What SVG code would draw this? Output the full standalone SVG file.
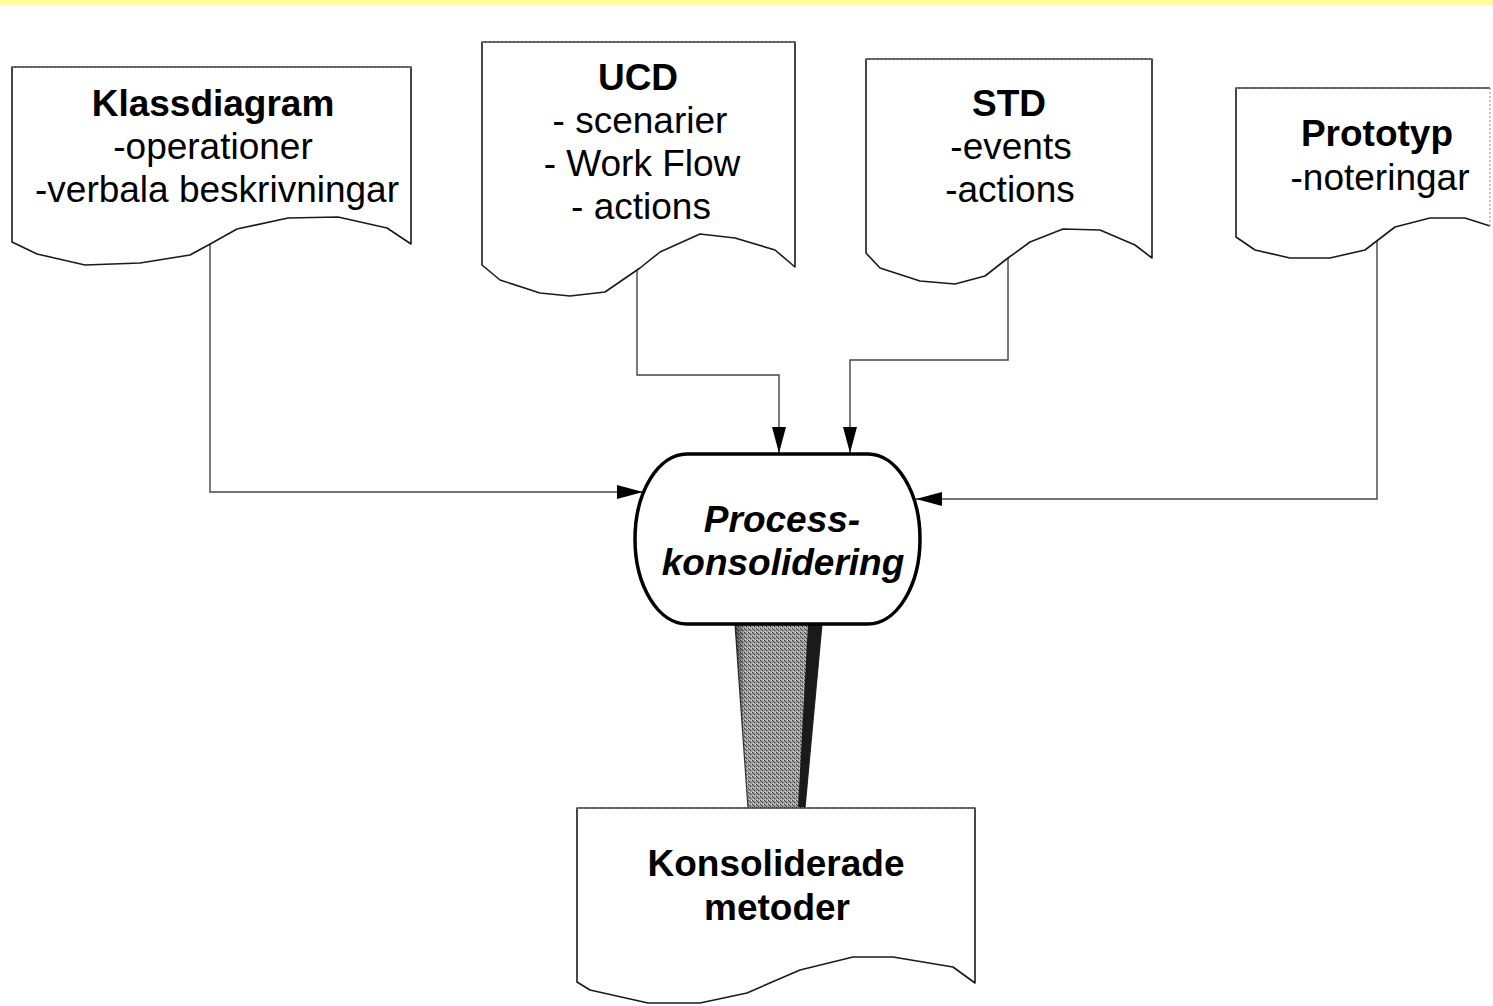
<svg xmlns="http://www.w3.org/2000/svg" width="1493" height="1006" viewBox="0 0 1493 1006">
  <style>
    .doc { fill: #ffffff; stroke: #1a1a1a; stroke-width: 1.6; stroke-linejoin: round; }
    .docTop { fill: none; stroke: #777; stroke-width: 1.4; stroke-dasharray: 3 1; }
    .t { font-family: "Liberation Sans", Arial, sans-serif; font-size: 37px; fill: #000; text-anchor: middle; }
    .b { font-weight: bold; }
    .proc { fill: #ffffff; stroke: #000; stroke-width: 3.5; }
    .conn { fill: none; stroke: #444; stroke-width: 1.4; }
  </style>
  <defs>
    <marker id="arrow" viewBox="0 0 26 14" refX="26" refY="7" markerWidth="26" markerHeight="14" markerUnits="userSpaceOnUse" orient="auto">
      <path d="M0,0 L26,7 L0,14 Z" fill="#000"/>
    </marker>
    <pattern id="dither" width="4" height="4" patternUnits="userSpaceOnUse">
      <rect width="4" height="4" fill="#9a9a9a"/>
      <rect x="0" y="0" width="1" height="1" fill="#444"/>
      <rect x="2" y="2" width="1" height="1" fill="#444"/>
      <rect x="1" y="1" width="1" height="1" fill="#555"/>
      <rect x="3" y="0" width="1" height="1" fill="#ddd"/>
      <rect x="1" y="3" width="1" height="1" fill="#ddd"/>
    </pattern>
    <linearGradient id="funnelEdge" x1="0" y1="0" x2="1" y2="0">
      <stop offset="0" stop-color="#000" stop-opacity="0.55"/>
      <stop offset="0.12" stop-color="#000" stop-opacity="0"/>
      <stop offset="1" stop-color="#000" stop-opacity="0"/>
    </linearGradient>
  </defs>

  <rect width="1493" height="1006" fill="#ffffff"/>
  <!-- pale yellow band along the top edge -->
  <rect x="0" y="0" width="1493" height="5" fill="#fff9a0"/>

  <!-- connectors -->
  <g id="connectors">
    <polyline class="conn" points="210,244 210,492 643,492" marker-end="url(#arrow)"/>
    <polyline class="conn" points="637,268 637,375 779,375 779,453" marker-end="url(#arrow)"/>
    <polyline class="conn" points="1008,258 1008,360 850,360 850,453" marker-end="url(#arrow)"/>
    <polyline class="conn" points="1377,240 1377,499 916,499" marker-end="url(#arrow)"/>
  </g>

  <!-- Klassdiagram document -->
  <g id="klassdiagram">
    <path class="doc" d="M12,67 L411,67 L411,244 L387,228 L338,217 L288,218 L237,229 L212,243 L190,255 L140,263 L85,265 L37,254 L12,242 Z"/>
    <line class="docTop" x1="12" y1="67" x2="411" y2="67"/>
    <text class="t b" x="213" y="116">Klassdiagram</text>
    <text class="t" x="213" y="159">-operationer</text>
    <text class="t" x="217" y="202">-verbala beskrivningar</text>
  </g>

  <!-- UCD document -->
  <g id="ucd">
    <path class="doc" d="M482,42 L795,42 L795,267 L775,250 L735,238 L700,234 L660,252 L640,268 L605,292 L570,296 L540,293 L500,280 L482,265 Z"/>
    <line class="docTop" x1="482" y1="42" x2="795" y2="42"/>
    <text class="t b" x="638" y="90">UCD</text>
    <text class="t" x="640" y="133">- scenarier</text>
    <text class="t" x="642" y="176">- Work Flow</text>
    <text class="t" x="641" y="219">- actions</text>
  </g>

  <!-- STD document -->
  <g id="std">
    <path class="doc" d="M866,59 L1152,59 L1152,258 L1135,245 L1100,230 L1063,229 L1030,242 L1008,258 L985,276 L955,284 L920,281 L880,268 L866,253 Z"/>
    <line class="docTop" x1="866" y1="59" x2="1152" y2="59"/>
    <text class="t b" x="1009" y="116">STD</text>
    <text class="t" x="1011" y="159">-events</text>
    <text class="t" x="1010" y="202">-actions</text>
  </g>

  <!-- Prototyp document (right edge runs off the sheet) -->
  <g id="prototyp">
    <path class="doc" d="M1490,226 L1465,218 L1430,218 L1395,227 L1378,240 L1365,250 L1330,258 L1290,258 L1255,250 L1236,237 L1236,88 L1490,88"/>
    <line x1="1490" y1="88" x2="1490" y2="228" stroke="#aaa" stroke-width="1.4" stroke-dasharray="2 2"/>
    <line class="docTop" x1="1236" y1="88" x2="1490" y2="88"/>
    <text class="t b" x="1377" y="146">Prototyp</text>
    <text class="t" x="1380" y="190">-noteringar</text>
  </g>

  <!-- shaded funnel from the process to the result -->
  <g id="funnel">
    <polygon points="735,624 822,624 805,808 748,808" fill="url(#dither)" stroke="#333" stroke-width="1.2"/>
    <polygon points="735,624 822,624 805,808 748,808" fill="url(#funnelEdge)"/>
    <polygon points="808,624 822,624 805,808 798,808" fill="#1a1a1a"/>
  </g>

  <!-- Process-konsolidering -->
  <g id="process">
    <rect class="proc" x="635" y="454" width="285" height="170" rx="52" ry="85"/>
    <text class="t b" x="782" y="532" font-style="italic">Process-</text>
    <text class="t b" x="783" y="575" font-style="italic">konsolidering</text>
  </g>

  <!-- Konsoliderade metoder document -->
  <g id="konsoliderade">
    <path class="doc" d="M577,808 L975,808 L975,983 L953,967 L893,957 L853,957 L800,970 L747,993 L700,1003 L648,1003 L590,990 L577,982 Z"/>
    <line class="docTop" x1="577" y1="808" x2="975" y2="808"/>
    <text class="t b" x="776" y="876">Konsoliderade</text>
    <text class="t b" x="777" y="920">metoder</text>
  </g>
</svg>
